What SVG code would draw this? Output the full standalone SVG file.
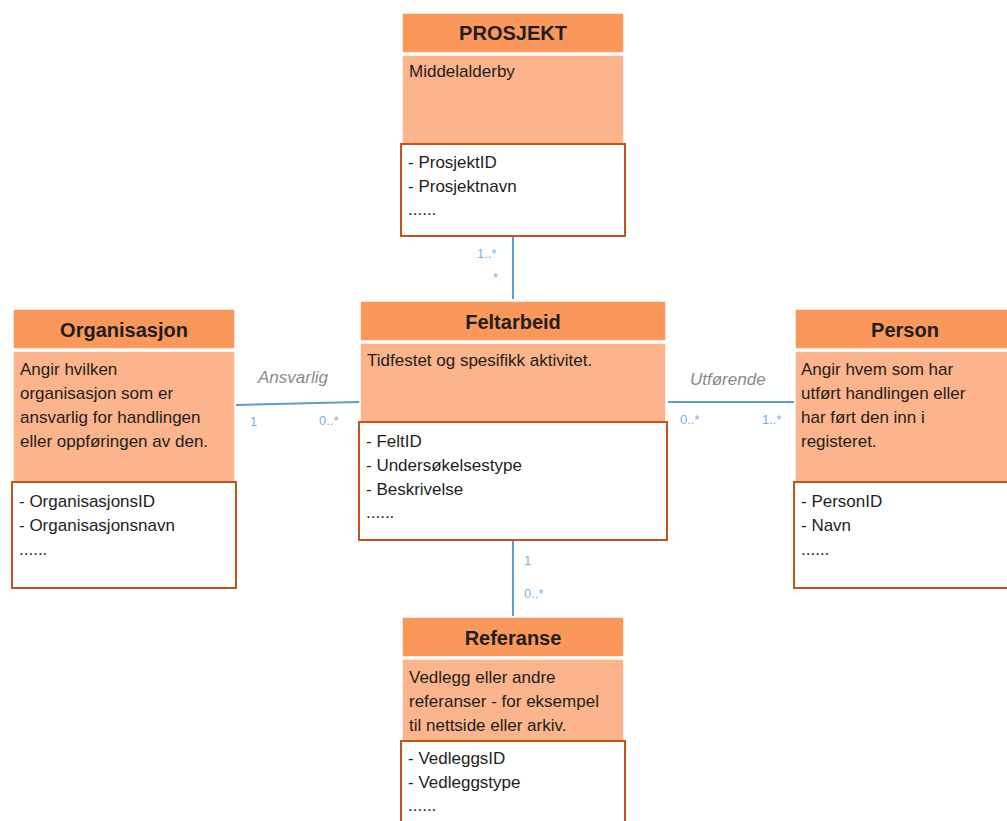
<svg xmlns="http://www.w3.org/2000/svg" width="1007" height="821" viewBox="0 0 1007 821">
<style>
.hd{fill:#F9985A;stroke:#fff;stroke-width:1.5}
.bd{fill:#FBB48B;stroke:#fff;stroke-width:1.5}
.at{fill:#fff;stroke:#C0561A;stroke-width:2}
.t{font-family:"Liberation Sans",Arial,sans-serif;font-size:17px;fill:#1e1e1e}
.h{font-family:"Liberation Sans",Arial,sans-serif;font-size:20px;font-weight:bold;fill:#1e1e1e;text-anchor:middle}
.ln{stroke:#5B9BD5;stroke-width:2;fill:none}
.m{font-family:"Liberation Sans",Arial,sans-serif;font-size:13px;fill:#7FAEDD}
.r{font-family:"Liberation Sans",Arial,sans-serif;font-size:17px;font-style:italic;fill:#8a8a8a}
</style>
<rect width="1007" height="821" fill="#fff"/>
<g id="connectors">
<line class="ln" x1="513" y1="237" x2="513" y2="299"/>
<line class="ln" x1="513" y1="540" x2="513" y2="616"/>
<line class="ln" x1="236" y1="405" x2="360" y2="402"/>
<line class="ln" x1="668" y1="402" x2="794" y2="402"/>
<text class="m" x="477" y="258">1..*</text>
<text class="m" x="493" y="282">*</text>
<text class="m" x="524" y="565">1</text>
<text class="m" x="524" y="598">0..*</text>
<text class="m" x="250" y="426">1</text>
<text class="m" x="319" y="425">0..*</text>
<text class="m" x="680" y="424">0..*</text>
<text class="m" x="762" y="424">1..*</text>
<text class="r" x="258" y="383">Ansvarlig</text>
<text class="r" x="690" y="385">Utførende</text>
</g>
<g id="prosjekt">
<rect class="hd" x="402" y="13" width="222" height="40"/>
<rect class="bd" x="402" y="55" width="222" height="90"/>
<rect class="at" x="401" y="144" width="224" height="92"/>
<text class="h" x="513" y="40">PROSJEKT</text>
<text class="t" x="409" y="77">Middelalderby</text>
<text class="t" x="408" y="168">- ProsjektID</text>
<text class="t" x="408" y="192">- Prosjektnavn</text>
<text class="t" x="408" y="215">......</text>
</g>
<g id="feltarbeid">
<rect class="hd" x="360" y="301" width="306" height="40"/>
<rect class="bd" x="360" y="343" width="306" height="80"/>
<rect class="at" x="359" y="422" width="308" height="118"/>
<text class="h" x="513" y="329">Feltarbeid</text>
<text class="t" x="367" y="366">Tidfestet og spesifikk aktivitet.</text>
<text class="t" x="366" y="447">- FeltID</text>
<text class="t" x="366" y="471">- Undersøkelsestype</text>
<text class="t" x="366" y="495">- Beskrivelse</text>
<text class="t" x="366" y="518">......</text>
</g>
<g id="organisasjon">
<rect class="hd" x="13" y="309" width="222" height="40"/>
<rect class="bd" x="13" y="351" width="222" height="132"/>
<rect class="at" x="12" y="482" width="224" height="106"/>
<text class="h" x="124" y="337">Organisasjon</text>
<text class="t" x="20" y="375">Angir hvilken</text>
<text class="t" x="20" y="399">organisasjon som er</text>
<text class="t" x="20" y="423">ansvarlig for handlingen</text>
<text class="t" x="20" y="447">eller oppføringen av den.</text>
<text class="t" x="19" y="507">- OrganisasjonsID</text>
<text class="t" x="19" y="531">- Organisasjonsnavn</text>
<text class="t" x="19" y="555">......</text>
</g>
<g id="person">
<rect class="hd" x="795" y="309" width="222" height="40"/>
<rect class="bd" x="795" y="351" width="222" height="132"/>
<rect class="at" x="794" y="482" width="224" height="106"/>
<text class="h" x="905" y="337">Person</text>
<text class="t" x="801" y="375">Angir hvem som har</text>
<text class="t" x="801" y="399">utført handlingen eller</text>
<text class="t" x="801" y="423">har ført den inn i</text>
<text class="t" x="801" y="447">registeret.</text>
<text class="t" x="801" y="507">- PersonID</text>
<text class="t" x="801" y="531">- Navn</text>
<text class="t" x="801" y="555">......</text>
</g>
<g id="referanse">
<rect class="hd" x="402" y="617" width="222" height="40"/>
<rect class="bd" x="402" y="659" width="222" height="82"/>
<rect class="at" x="401" y="741" width="224" height="100"/>
<text class="h" x="513" y="645">Referanse</text>
<text class="t" x="409" y="683">Vedlegg eller andre</text>
<text class="t" x="409" y="707">referanser - for eksempel</text>
<text class="t" x="409" y="731">til nettside eller arkiv.</text>
<text class="t" x="408" y="764">- VedleggsID</text>
<text class="t" x="408" y="788">- Vedleggstype</text>
<text class="t" x="408" y="811">......</text>
</g>
</svg>
